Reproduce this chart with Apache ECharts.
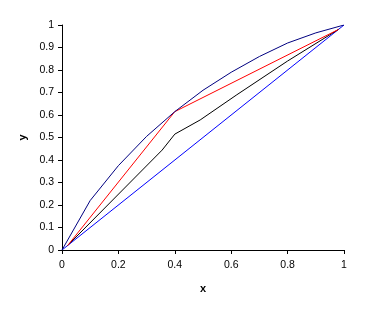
<!DOCTYPE html>
<html>
<head>
<meta charset="utf-8">
<script src="https://cdn.jsdelivr.net/npm/echarts@6/dist/echarts.min.js"></script>
<style>html,body{margin:0;padding:0;background:#fff}#c{width:368px;height:314px}</style>
</head>
<body>
<div id="c"></div>
<script>
// Equilibrium curve (navy)
const eqX = [0, 0.1, 0.2, 0.3, 0.4, 0.5, 0.6, 0.7, 0.8, 0.9, 1];
const eqY = [0, 0.22, 0.375, 0.505, 0.615, 0.71, 0.79, 0.86, 0.92, 0.965, 1];
// Diagonal y = x (blue)
const diagX = [0, 1];
const diagY = [0, 1];
// Minimum reflux operating line (red)
const redX = [0.02, 0.4, 0.98];
const redY = [0.02, 0.615, 0.98];
// Operating line (black)
const blackX = [0.02, 0.355, 0.4, 0.49, 0.62, 0.8, 0.98];
const blackY = [0.02, 0.444, 0.515, 0.578, 0.69, 0.84, 0.98];

const zip = (xs, ys) => xs.map((x, i) => [x, ys[i]]);
const font = '"Liberation Sans", Arial, sans-serif';

const chart = echarts.init(document.getElementById('c'), null, {renderer: 'canvas'});
const axisCommon = {
  type: 'value', min: 0, max: 1,
  axisLine: {show: true, onZero: false, lineStyle: {color: '#000', width: 1}},
  axisTick: {show: true, length: 4, lineStyle: {color: '#000'}},
  splitLine: {show: false},
  axisLabel: {color: '#000', fontFamily: font, fontSize: 10.5},
  nameLocation: 'middle',
  nameTextStyle: {color: '#000', fontFamily: font, fontSize: 11, fontWeight: 'bold'}
};
chart.setOption({
  animation: false,
  backgroundColor: '#fff',
  grid: {left: 62, right: 24, top: 25, bottom: 64, containLabel: false},
  xAxis: Object.assign({}, axisCommon, {interval: 0.2, name: 'x', nameGap: 33,
    axisLabel: Object.assign({}, axisCommon.axisLabel, {margin: 10})}),
  yAxis: Object.assign({}, axisCommon, {interval: 0.1, name: 'y', nameGap: 31, nameRotate: 90,
    axisLabel: Object.assign({}, axisCommon.axisLabel, {margin: 8})}),
  series: [
    {type: 'line', data: zip(diagX, diagY), showSymbol: false, lineStyle: {color: '#0000FF', width: 1}},
    {type: 'line', data: zip(blackX, blackY), showSymbol: false, lineStyle: {color: '#000000', width: 1}},
    {type: 'line', data: zip(redX, redY), showSymbol: false, lineStyle: {color: '#FF0000', width: 1}},
    {type: 'line', data: zip(eqX, eqY), showSymbol: false, lineStyle: {color: '#000080', width: 1}}
  ]
});
</script>
</body>
</html>
